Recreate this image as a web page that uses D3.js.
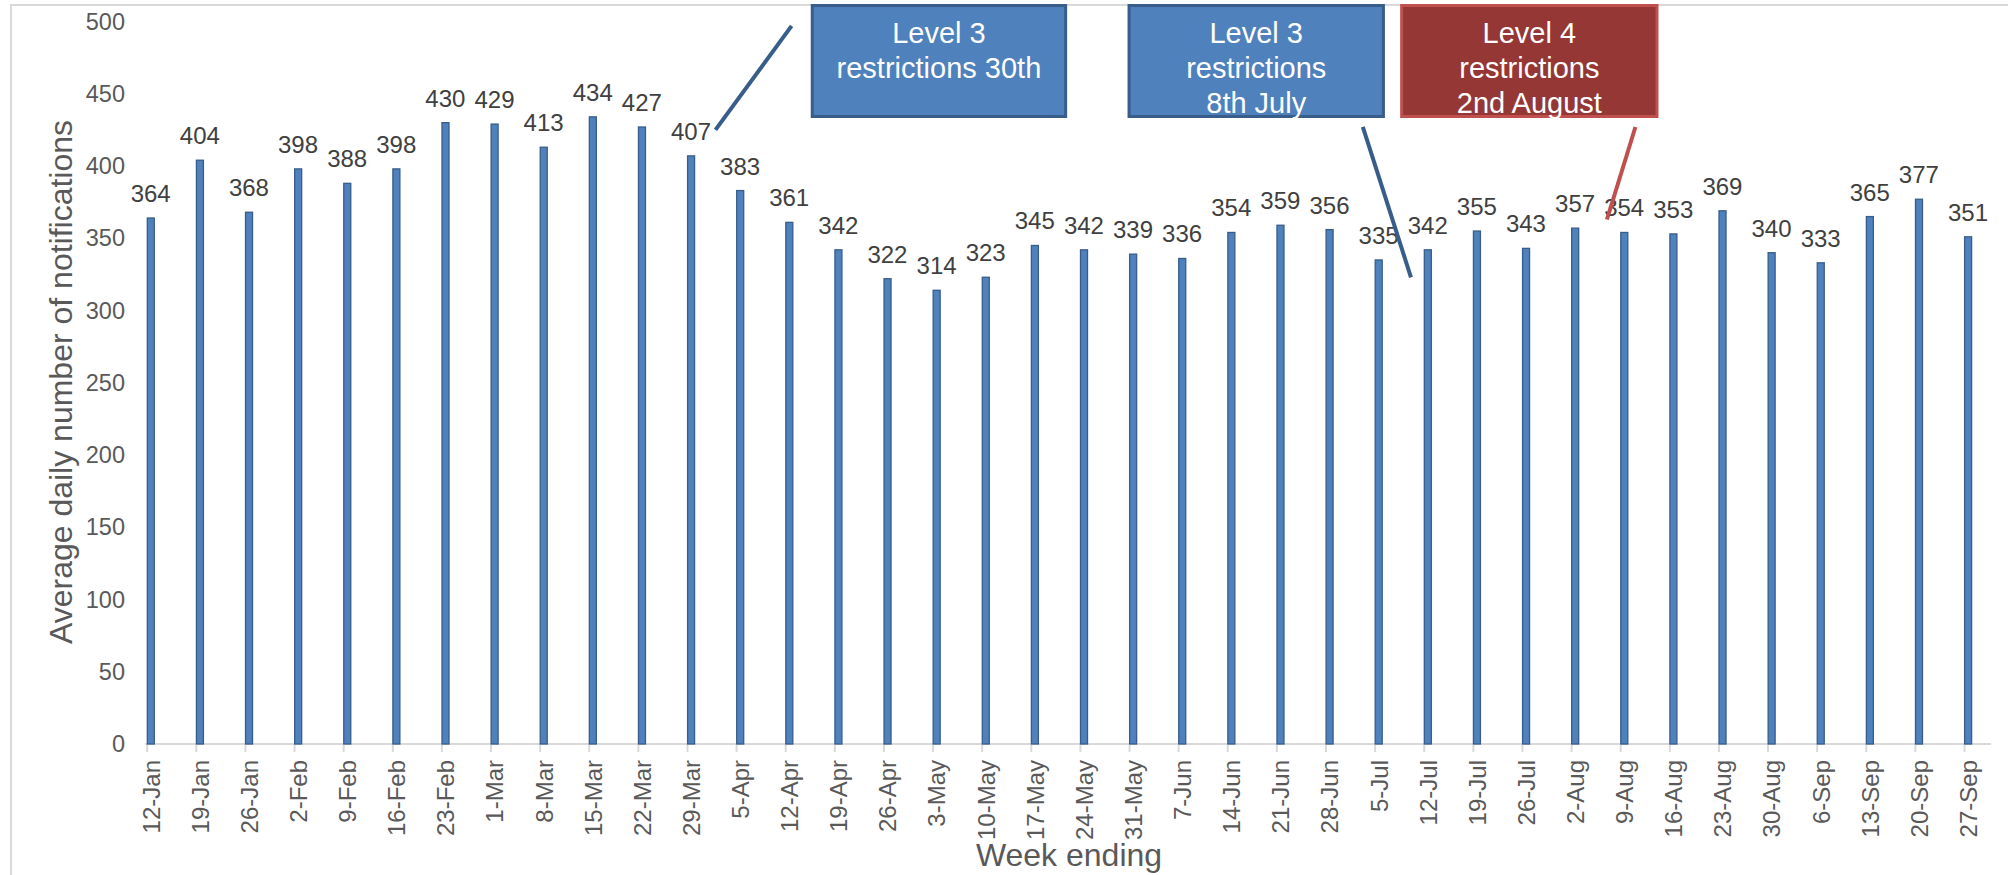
<!DOCTYPE html>
<html>
<head>
<meta charset="utf-8">
<script src="https://cdn.jsdelivr.net/npm/d3@7"></script>
<style>
  body { margin: 0; background: #fff; }
  text { font-family: "Liberation Sans", Arial, sans-serif; }
</style>
</head>
<body>
<div id="chart"></div>
<script>
var W = 2008, H = 875;

// week ending labels
var weeks = ["12-Jan", "19-Jan", "26-Jan", "2-Feb", "9-Feb", "16-Feb", "23-Feb", "1-Mar", "8-Mar", "15-Mar",
  "22-Mar", "29-Mar", "5-Apr", "12-Apr", "19-Apr", "26-Apr", "3-May", "10-May", "17-May", "24-May",
  "31-May", "7-Jun", "14-Jun", "21-Jun", "28-Jun", "5-Jul", "12-Jul", "19-Jul", "26-Jul", "2-Aug",
  "9-Aug", "16-Aug", "23-Aug", "30-Aug", "6-Sep", "13-Sep", "20-Sep", "27-Sep"];

// average daily number of notifications
var notifications = [364, 404, 368, 398, 388, 398, 430, 429, 413, 434,
  427, 407, 383, 361, 342, 322, 314, 323, 345, 342,
  339, 336, 354, 359, 356, 335, 342, 355, 343, 357,
  354, 353, 369, 340, 333, 365, 377, 351];

var yTicks = [0, 50, 100, 150, 200, 250, 300, 350, 400, 450, 500];

// annotation boxes, in category-index / value units
var boxLines = [["Level 3", "restrictions 30th"], ["Level 3", "restrictions", "8th July"], ["Level 4", "restrictions", "2nd August"]];
var boxFrom = [13.52, 19.97, 25.52];
var boxTo = [18.74, 25.21, 30.78];
var boxColors = [["#4F81BD", "#385D8A"], ["#4F81BD", "#385D8A"], ["#953735", "#C0504D"]];
// connector lines [i0, v0, i1, v1]
var connectors = [[13.13, 497, 11.58, 425], [24.76, 427, 25.74, 323], [30.31, 427, 29.73, 363]];
var connectorColors = ["#385D8A", "#385D8A", "#C0504D"];

var svg = d3.select("#chart").append("svg")
  .attr("width", W)
  .attr("height", H);

// chart border
svg.append("rect")
  .attr("x", 11).attr("y", 5)
  .attr("width", 2100).attr("height", 1000)
  .attr("fill", "none")
  .attr("stroke", "#D9D9D9")
  .attr("stroke-width", 2);

var x = d3.scalePoint()
  .domain(weeks)
  .range([146.7, 1964]);

var xi = d3.scaleLinear()
  .domain([0, weeks.length - 1])
  .range([146.7, 1964]);

var y = d3.scaleLinear()
  .domain([0, 500])
  .range([744, 21.5]);

// y axis (labels only)
var yAxis = svg.append("g")
  .attr("transform", "translate(146,0)")
  .call(d3.axisLeft(y).tickValues(yTicks).tickSize(0).tickPadding(21));
yAxis.select(".domain").remove();
yAxis.selectAll("text")
  .style("font-family", "Liberation Sans, Arial, sans-serif")
  .style("font-size", "23.5px")
  .attr("fill", "#595959");

// x axis
var xAxis = svg.append("g")
  .attr("transform", "translate(0,744)")
  .call(d3.axisBottom(x).tickSize(8).tickPadding(0));
xAxis.select(".domain").remove();
xAxis.selectAll(".tick line")
  .attr("stroke", "#D9D9D9")
  .attr("stroke-width", 2);
xAxis.selectAll(".tick text")
  .attr("transform", "translate(4,16) rotate(-90)")
  .attr("x", 0).attr("y", 0)
  .attr("dy", ".35em")
  .style("text-anchor", "end")
  .style("font-family", "Liberation Sans, Arial, sans-serif")
  .style("font-size", "24px")
  .attr("fill", "#595959");

svg.append("line")
  .attr("x1", xi(-0.03)).attr("x2", xi(37.55))
  .attr("y1", y(0)).attr("y2", y(0))
  .attr("stroke", "#D9D9D9")
  .attr("stroke-width", 2);

// bars
svg.selectAll(".bar")
  .data(notifications)
  .join("rect")
  .attr("class", "bar")
  .attr("x", (d, i) => x(weeks[i]) + 0.6)
  .attr("y", (d) => y(d))
  .attr("width", 7)
  .attr("height", (d) => y(0) - y(d))
  .attr("fill", "#4F81BD")
  .attr("stroke", "#385D8A")
  .attr("stroke-width", 1.3);

// data labels
svg.selectAll(".lbl")
  .data(notifications)
  .join("text")
  .attr("class", "lbl")
  .attr("x", (d, i) => x(weeks[i]) + 4)
  .attr("y", (d) => y(d) - 16)
  .attr("text-anchor", "middle")
  .style("font-size", "24px")
  .attr("fill", "#404040")
  .text((d) => d);

// axis titles
svg.append("text")
  .attr("transform", "translate(72,382) rotate(-90)")
  .attr("text-anchor", "middle")
  .style("font-size", "32px")
  .attr("fill", "#595959")
  .text("Average daily number of notifications");

svg.append("text")
  .attr("x", 1069)
  .attr("y", 866)
  .attr("text-anchor", "middle")
  .style("font-size", "32px")
  .attr("fill", "#595959")
  .text("Week ending");

// connector lines
svg.selectAll(".conn")
  .data(connectors)
  .join("line")
  .attr("class", "conn")
  .attr("x1", (d) => xi(d[0])).attr("y1", (d) => y(d[1]))
  .attr("x2", (d) => xi(d[2])).attr("y2", (d) => y(d[3]))
  .attr("stroke", (d, i) => connectorColors[i])
  .attr("stroke-width", 4);

// annotation boxes
var boxes = svg.selectAll(".box")
  .data(boxLines)
  .join("g")
  .attr("class", "box");

boxes.append("rect")
  .attr("x", (d, i) => xi(boxFrom[i]) + 1.5)
  .attr("y", 5.5)
  .attr("width", (d, i) => xi(boxTo[i]) - xi(boxFrom[i]) - 3)
  .attr("height", 111)
  .attr("fill", (d, i) => boxColors[i][0])
  .attr("stroke", (d, i) => boxColors[i][1])
  .attr("stroke-width", 3);

boxes.each(function(lines, i) {
  var cx = (xi(boxFrom[i]) + xi(boxTo[i])) / 2;
  d3.select(this).selectAll("text")
    .data(lines)
    .join("text")
    .attr("x", cx)
    .attr("y", (d, j) => 43 + j * 35)
    .attr("text-anchor", "middle")
    .style("font-size", "29px")
    .attr("fill", "#ffffff")
    .text((d) => d);
});
</script>
</body>
</html>
